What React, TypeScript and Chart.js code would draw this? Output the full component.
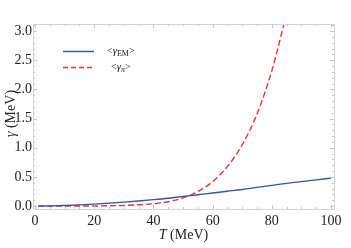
import React, { useEffect, useRef } from "react";
import { Chart, registerables } from "chart.js";
Chart.register(...registerables);

const tEM = [1, 5, 10, 15, 20, 25, 30, 35, 40, 45, 50, 55, 60, 65, 70, 75, 80, 85, 90, 95, 100];
const gammaEM = [0.0, 0.003, 0.01, 0.02, 0.034, 0.05, 0.068, 0.088, 0.11, 0.135, 0.165, 0.195, 0.225, 0.255, 0.285, 0.32, 0.355, 0.39, 0.42, 0.45, 0.48];
const tPi = [1, 5, 10, 15, 20, 25, 30, 35, 40, 45, 50, 55, 60, 65, 70, 75, 80, 85];
const gammaPi = [0.0, 0.0, 0.0, 0.0005, 0.002, 0.005, 0.011, 0.022, 0.04, 0.075, 0.14, 0.25, 0.42, 0.68, 1.05, 1.58, 2.32, 3.3];
const xTicks = [0, 20, 40, 60, 80, 100];
const yTicks = [0, 0.5, 1, 1.5, 2, 2.5, 3];

const FONT = "'Liberation Serif', 'DejaVu Serif', serif";
const BLUE = "#3853a4";
const RED = "#e8303c";
const FRAME = "#d4d4d4";

const decor = {
  id: "decor",
  afterDraw(chart: any) {
    const ctx = chart.ctx;
    const { left, right, top, bottom } = chart.chartArea;
    const xs = chart.scales.x;
    const ys = chart.scales.y;
    ctx.save();
    ctx.strokeStyle = FRAME;
    ctx.lineWidth = 1;
    ctx.strokeRect(left + 0.5, top + 0.5, right - left, bottom - top);
    ctx.strokeStyle = "#c8c8c8";
    for (let v = 0; v <= 100; v += 5) {
      const x = Math.round(xs.getPixelForValue(v)) + 0.5;
      const len = v % 20 === 0 ? 4 : 2;
      ctx.beginPath();
      ctx.moveTo(x, bottom); ctx.lineTo(x, bottom - len);
      ctx.moveTo(x, top); ctx.lineTo(x, top + len);
      ctx.stroke();
    }
    for (let i = 0; i <= 31; i++) {
      const v = i / 10;
      const y = Math.round(ys.getPixelForValue(v)) + 0.5;
      const len = i % 5 === 0 ? 4 : 2;
      ctx.beginPath();
      ctx.moveTo(left, y); ctx.lineTo(left + len, y);
      ctx.moveTo(right, y); ctx.lineTo(right - len, y);
      ctx.stroke();
    }
    // axis titles
    ctx.fillStyle = "#222";
    ctx.textBaseline = "middle";
    ctx.font = `italic 14px ${FONT}`;
    const tW = ctx.measureText("T").width;
    ctx.font = `14px ${FONT}`;
    const restW = ctx.measureText(" (MeV)").width;
    const cx = (left + right) / 2;
    const sx = cx - (tW + restW) / 2;
    ctx.font = `italic 14px ${FONT}`;
    ctx.textAlign = "left";
    ctx.fillText("T", sx, 235);
    ctx.font = `14px ${FONT}`;
    ctx.fillText(" (MeV)", sx + tW, 235);
    ctx.save();
    ctx.translate(11, (top + bottom) / 2 - 3);
    ctx.rotate(-Math.PI / 2);
    ctx.font = `italic 14px ${FONT}`;
    const gW = ctx.measureText("γ").width;
    ctx.font = `14px ${FONT}`;
    const gR = ctx.measureText(" (MeV)").width;
    const gx = -(gW + gR) / 2;
    ctx.font = `italic 14px ${FONT}`;
    ctx.fillText("γ", gx, 0);
    ctx.font = `14px ${FONT}`;
    ctx.fillText(" (MeV)", gx + gW, 0);
    ctx.restore();
    // legend
    ctx.lineWidth = 1.4;
    ctx.strokeStyle = BLUE;
    ctx.beginPath(); ctx.moveTo(63, 51.5); ctx.lineTo(94, 51.5); ctx.stroke();
    ctx.strokeStyle = RED;
    ctx.setLineDash([5, 3]);
    ctx.beginPath(); ctx.moveTo(63, 67.5); ctx.lineTo(94, 67.5); ctx.stroke();
    ctx.setLineDash([]);
    const drawLab = (x: number, y: number, sub: string) => {
      ctx.font = `10px ${FONT}`;
      ctx.fillText("<", x, y);
      x += ctx.measureText("<").width;
      ctx.font = `italic 11px ${FONT}`;
      ctx.fillText("γ", x, y);
      x += ctx.measureText("γ").width;
      ctx.font = (sub === "π" ? "italic " : "") + `8px ${FONT}`;
      ctx.fillText(sub, x, y + 3);
      x += ctx.measureText(sub).width;
      ctx.font = `10px ${FONT}`;
      ctx.fillText(">", x, y);
    };
    drawLab(107, 51, "EM");
    drawLab(111, 67, "π");
    ctx.restore();
  },
};

export default function App() {
  const ref = useRef<HTMLCanvasElement>(null);
  useEffect(() => {
    document.body.style.margin = "0";
    const chart = new Chart(ref.current!, {
      type: "line",
      data: {
        datasets: [
          {
            label: "<γEM>",
            data: tEM.map((t, i) => ({ x: t, y: gammaEM[i] })),
            borderColor: BLUE,
            borderWidth: 1.4,
            pointRadius: 0,
            cubicInterpolationMode: "monotone",
            fill: false,
          },
          {
            label: "<γπ>",
            data: tPi.map((t, i) => ({ x: t, y: gammaPi[i] })),
            borderColor: RED,
            borderWidth: 1.4,
            borderDash: [6, 3],
            pointRadius: 0,
            cubicInterpolationMode: "monotone",
            fill: false,
          },
        ],
      },
      options: {
        animation: false,
        responsive: false,
        maintainAspectRatio: false,
        layout: { padding: { top: 24, right: 17, left: 0, bottom: 0 } },
        plugins: { legend: { display: false }, tooltip: { enabled: false } },
        scales: {
          x: {
            type: "linear",
            min: -0.7,
            max: 101,
            grid: { display: false, drawTicks: false },
            border: { display: false },
            afterBuildTicks: (s: any) => { s.ticks = xTicks.map((v) => ({ value: v })); },
            afterFit: (s: any) => { s.height = 39; },
            ticks: { color: "#222", font: { family: FONT, size: 14 }, padding: 4, maxRotation: 0 },
          },
          y: {
            type: "linear",
            min: -0.05,
            max: 3.12,
            grid: { display: false, drawTicks: false },
            border: { display: false },
            afterBuildTicks: (s: any) => { s.ticks = yTicks.map((v) => ({ value: v })); },
            afterFit: (s: any) => { s.width = 33; },
            ticks: {
              color: "#222",
              font: { family: FONT, size: 14 },
              padding: 1,
              callback: (v: any) => Number(v).toFixed(1),
            },
          },
        },
      },
      plugins: [decor],
    });
    return () => chart.destroy();
  }, []);
  return (
    <div style={{ position: "absolute", left: 0, top: 0, width: 351, height: 248 }}>
      <canvas ref={ref} width={351} height={248} style={{ width: 351, height: 248 }} />
    </div>
  );
}
